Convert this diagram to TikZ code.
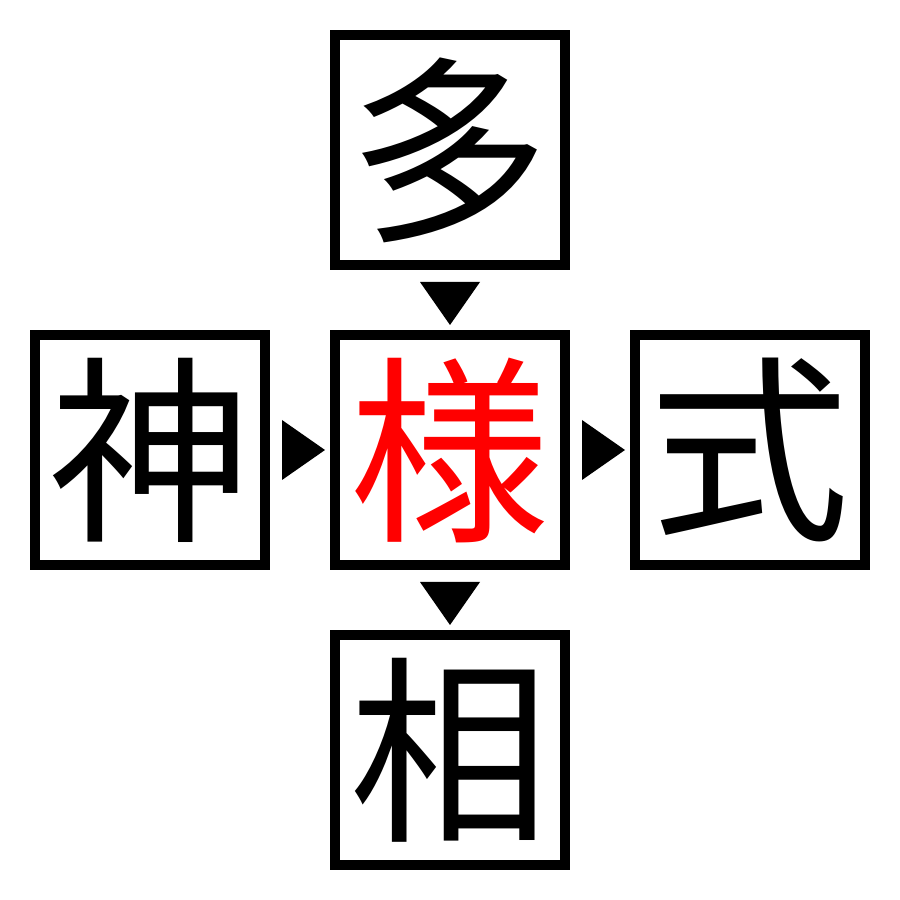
\documentclass[tikz,border=0pt]{standalone}
\usepackage{fontspec}
\newfontfamily\cjk{Noto Sans CJK JP}
\usetikzlibrary{calc}

\tikzset{%
  kanji/.style={
    draw=black,
    line width=0.1cm,
    minimum size=2.3cm,
    inner sep=0pt,
    font=\cjk\fontsize{57}{57}\selectfont
  },
}

\begin{document}
\begin{tikzpicture}[x=1cm, y=1cm]
  \useasboundingbox (0,0) rectangle (9,9);
  % draw the five boxes
  \node [kanji] (top) at (4.5,7.5) {多};
  \node [kanji] (left) at (1.5,4.5) {神};
  \node [kanji, text=red] (centre) at (4.5,4.5) {様};
  \node [kanji] (right) at (7.5,4.5) {式};
  \node [kanji] (bottom) at (4.5,1.5) {相};

  % draw the pointers
  \foreach \a/\b in {top/centre, centre/bottom}
  \fill ($(\a.south)+(-0.3,-0.12)$) -- ($(\a.south)+(0.3,-0.12)$)
    -- ($(\a.south)+(0,-0.55)$) -- cycle;

  \foreach \a/\b in {left/centre, centre/right}
  \fill ($(\a.east)+(0.12,0.3)$) -- ($(\a.east)+(0.12,-0.3)$)
    -- ($(\a.east)+(0.55,0)$) -- cycle;

\end{tikzpicture}
\end{document}
